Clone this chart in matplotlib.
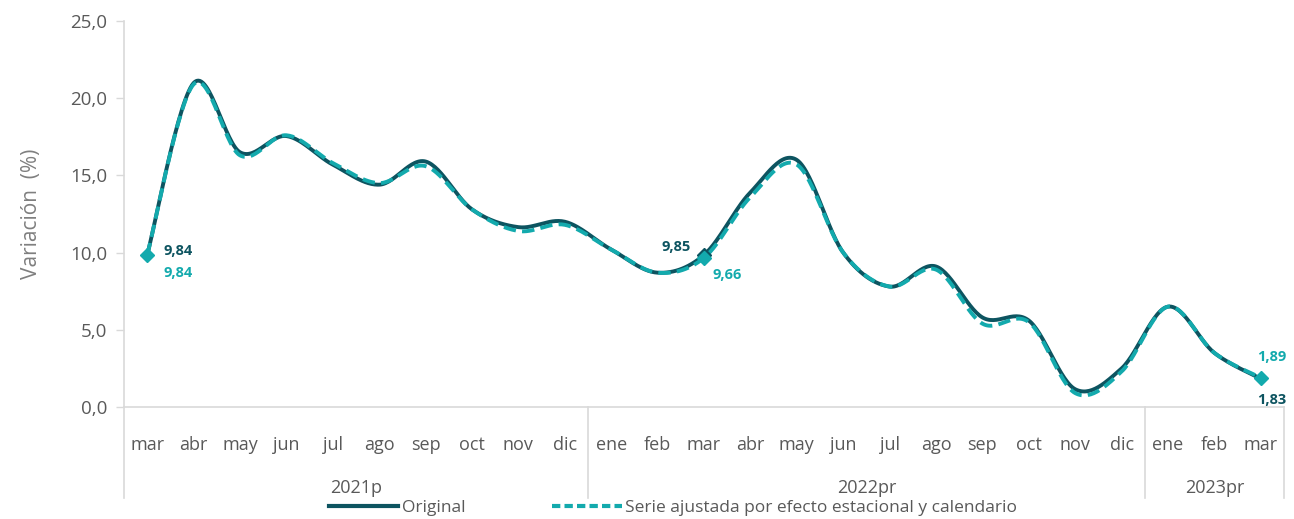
import numpy as np
import matplotlib
matplotlib.use("Agg")
import matplotlib.pyplot as plt
from matplotlib.ticker import FuncFormatter

plt.rcParams['font.family'] = ['Open Sans', 'DejaVu Sans']

months = ["mar", "abr", "may", "jun", "jul", "ago", "sep", "oct", "nov", "dic",
          "ene", "feb", "mar", "abr", "may", "jun", "jul", "ago", "sep", "oct", "nov", "dic",
          "ene", "feb", "mar"]
years = ["2021p", "2022pr", "2023pr"]
year_counts = [10, 12, 3]

original = [9.84, 20.98, 16.5, 17.55, 15.7, 14.4, 15.9, 12.8, 11.65, 12.0,
            10.2, 8.7, 9.85, 13.9, 16.0, 10.0, 7.8, 9.1, 5.8, 5.6, 1.15, 2.5,
            6.5, 3.5, 1.83]
ajustada = [9.84, 20.9, 16.3, 17.6, 15.8, 14.5, 15.6, 12.8, 11.4, 11.8,
            10.2, 8.7, 9.66, 13.6, 15.7, 10.0, 7.8, 8.9, 5.4, 5.5, 0.9, 2.3,
            6.5, 3.5, 1.89]

DARK = "#0D5460"
TEAL = "#13AAAD"
GRAY = "#595959"
LIGHT = "#D9D9D9"


def smooth(y, n=30):
    # Catmull-Rom curve through the points, like the smoothed line in a spreadsheet
    y = np.asarray(y, float)
    x = np.arange(len(y), dtype=float)
    px = np.concatenate([[x[0]], x, [x[-1]]])
    py = np.concatenate([[y[0]], y, [y[-1]]])
    xs, ys = [], []
    t = np.linspace(0, 1, n, endpoint=False)
    for i in range(1, len(px) - 2):
        for arr, out in ((px, xs), (py, ys)):
            p0, p1, p2, p3 = arr[i - 1], arr[i], arr[i + 1], arr[i + 2]
            c1 = p1 + (p2 - p0) / 6
            c2 = p2 - (p3 - p1) / 6
            out.extend((1 - t) ** 3 * p1 + 3 * (1 - t) ** 2 * t * c1 + 3 * (1 - t) * t ** 2 * c2 + t ** 3 * p2)
    xs.append(x[-1])
    ys.append(y[-1])
    return np.array(xs), np.array(ys)


fig = plt.figure(figsize=(12.94, 5.19), dpi=100)
ax = fig.add_axes([0.0958, 0.2158, 0.8965, 0.7437])

x = np.arange(len(months))
sx, sy = smooth(original)
ax.plot(sx, sy, color=DARK, lw=2.8, solid_capstyle='round', zorder=3)
sx2, sy2 = smooth(ajustada)
ax.plot(sx2, sy2, color=TEAL, lw=2.8, ls=(0, (3.2, 1.6)), zorder=4)

idx = [0, 12, 24]
ax.plot([x[12]], [original[12]], marker='D', ms=7, color=DARK, ls='none', zorder=5)
ax.plot([x[i] for i in idx], [ajustada[i] for i in idx], marker='D', ms=7, color=TEAL, ls='none', zorder=6)


def lab(v):
    return f"{v:.2f}".replace('.', ',')


kw = dict(textcoords='offset points', fontsize=10.5, fontweight='bold', ha='center', va='center')
ax.annotate(lab(original[0]), (x[0], original[0]), xytext=(22, 3), color=DARK, **kw)
ax.annotate(lab(ajustada[0]), (x[0], ajustada[0]), xytext=(22, -13), color=TEAL, **kw)
ax.annotate(lab(original[12]), (x[12], original[12]), xytext=(-20, 6), color=DARK, **kw)
ax.annotate(lab(ajustada[12]), (x[12], ajustada[12]), xytext=(17, -12), color=TEAL, **kw)
ax.annotate(lab(ajustada[24]), (x[24], ajustada[24]), xytext=(8, 15), color=TEAL, **kw)
ax.annotate(lab(original[24]), (x[24], original[24]), xytext=(8, -15), color=DARK, **kw)

ax.set_xlim(-0.5, len(months) - 0.5)
ax.set_ylim(0, 25)
ax.set_yticks(np.arange(0, 26, 5))
ax.yaxis.set_major_formatter(FuncFormatter(lambda v, p: f"{v:.1f}".replace('.', ',')))
ax.tick_params(axis='y', colors=LIGHT, labelcolor=GRAY, labelsize=13.5, length=6, width=1, pad=6)
ax.set_xticks(x)
ax.set_xticklabels(months)
ax.tick_params(axis='x', length=0, labelcolor=GRAY, labelsize=13, pad=21)
for s in ['top', 'right']:
    ax.spines[s].set_visible(False)
ax.spines['left'].set_color(LIGHT)
ax.spines['bottom'].set_color(LIGHT)
ax.spines['left'].set_linewidth(1.2)
ax.spines['bottom'].set_linewidth(1.2)
ax.set_ylabel("Variación  (%)", color="#7F7F7F", fontsize=15, labelpad=20)

# year groups below the month labels
trans = ax.get_xaxis_transform()
start = -0.5
bounds = [start]
for yr, n in zip(years, year_counts):
    end = start + n
    ax.text((start + end) / 2, -0.21, yr, transform=trans, ha='center', va='center',
            color=GRAY, fontsize=13)
    bounds.append(end)
    start = end
for b in bounds:
    ax.plot([b, b], [0, -0.235], transform=trans, color=LIGHT, lw=1.2, clip_on=False)

handles = [plt.Line2D([], [], color=DARK, lw=3),
           plt.Line2D([], [], color=TEAL, lw=3, ls=(0, (2, 1)))]
fig.legend(handles, ["Original", "Serie ajustada por efecto estacional y calendario"],
           loc='center', bbox_to_anchor=(0.52, 0.022), ncol=2, frameon=False,
           fontsize=12.5, labelcolor=GRAY, handlelength=4.0, handletextpad=0.2,
           columnspacing=5.0)

fig.savefig("out.png", dpi=100)
